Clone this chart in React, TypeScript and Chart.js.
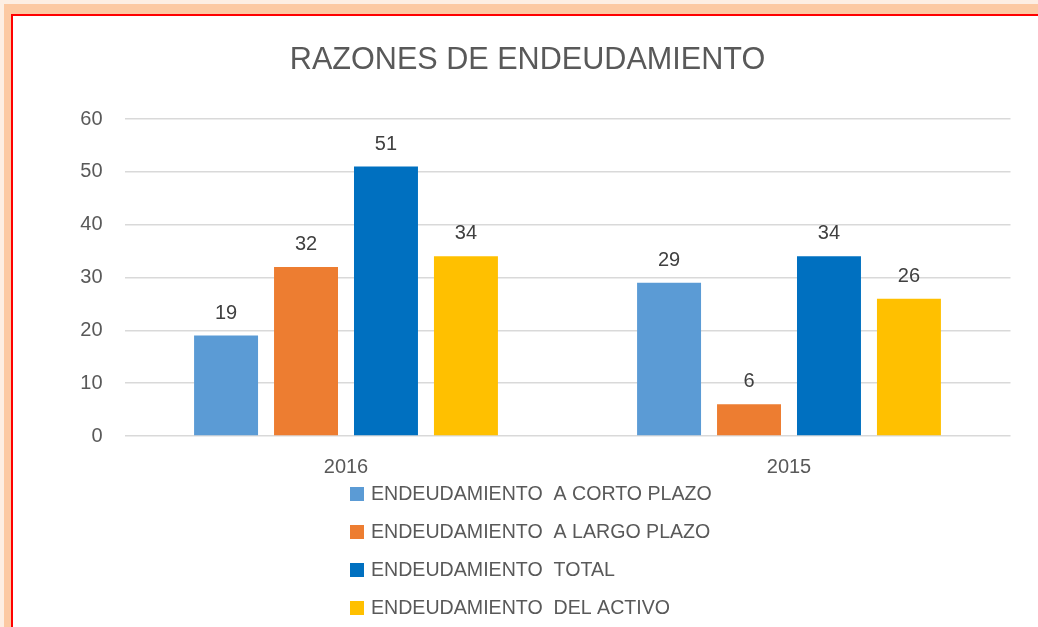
import React, { useEffect, useRef } from "react";
import { Chart, registerables } from "chart.js";

Chart.register(...registerables);

const titleText = "RAZONES DE ENDEUDAMIENTO";
const categories = ["2016", "2015"];
const seriesNames = [
  "ENDEUDAMIENTO  A CORTO PLAZO",
  "ENDEUDAMIENTO  A LARGO PLAZO",
  "ENDEUDAMIENTO  TOTAL",
  "ENDEUDAMIENTO  DEL ACTIVO",
];
const cortoPlazo = [19, 29];
const largoPlazo = [32, 6];
const total = [51, 34];
const delActivo = [34, 26];
const seriesColors = ["#5B9BD5", "#ED7D31", "#0070C0", "#FFC000"];
const yMin = 0;
const yMax = 60;
const yStep = 10;

const FONT = "'Liberation Sans', Arial, sans-serif";

const titlePlugin = {
  id: "customTitle",
  afterDraw(chart: any) {
    const ctx = chart.ctx;
    ctx.save();
    ctx.font = `30.6px ${FONT}`;
    ctx.fillStyle = "#595959";
    ctx.textAlign = "center";
    ctx.textBaseline = "middle";
    ctx.fillText(titleText, 527.5, 61);
    ctx.restore();
  },
};

const dataLabelPlugin = {
  id: "dataLabels",
  afterDatasetsDraw(chart: any) {
    const ctx = chart.ctx;
    ctx.save();
    ctx.font = `20px ${FONT}`;
    ctx.fillStyle = "#404040";
    ctx.textAlign = "center";
    ctx.textBaseline = "alphabetic";
    chart.data.datasets.forEach((ds: any, i: number) => {
      const meta = chart.getDatasetMeta(i);
      meta.data.forEach((el: any, j: number) => {
        ctx.fillText(String(ds.data[j]), el.x, el.y - 17);
      });
    });
    ctx.restore();
  },
};

const legendPlugin = {
  id: "vertLegend",
  afterDraw(chart: any) {
    const ctx = chart.ctx;
    ctx.save();
    ctx.font = `19.6px ${FONT}`;
    const firstY = 494;
    const step = 38;
    const left = 350;
    chart.data.datasets.forEach((ds: any, i: number) => {
      const cy = firstY + i * step;
      ctx.fillStyle = ds.backgroundColor;
      ctx.fillRect(left, cy - 7, 14, 14);
      ctx.fillStyle = "#595959";
      ctx.textAlign = "left";
      ctx.textBaseline = "middle";
      ctx.fillText(ds.label, left + 21, cy + 1);
    });
    ctx.restore();
  },
};

export default function App() {
  const canvasRef = useRef<HTMLCanvasElement | null>(null);

  useEffect(() => {
    if (!canvasRef.current) return;
    const seriesData = [cortoPlazo, largoPlazo, total, delActivo];
    const chart = new Chart(canvasRef.current, {
      type: "bar",
      data: {
        labels: categories,
        datasets: seriesNames.map((name, i) => ({
          label: name,
          data: seriesData[i],
          backgroundColor: seriesColors[i],
          borderWidth: 0,
          categoryPercentage: 0.722,
          barPercentage: 0.8,
        })),
      },
      options: {
        animation: false,
        responsive: true,
        maintainAspectRatio: false,
        layout: { padding: { left: 0, right: 27.5, top: 119, bottom: 151 } },
        plugins: {
          legend: { display: false },
          tooltip: { enabled: false },
          title: { display: false },
        },
        scales: {
          x: {
            grid: { display: false },
            border: { display: false },
            ticks: { color: "#595959", font: { family: FONT, size: 20 }, padding: 11 },
            afterFit: (s: any) => {
              s.height = 40;
            },
          },
          y: {
            min: yMin,
            max: yMax,
            grid: { color: "#d9d9d9", lineWidth: 1.5, drawTicks: false },
            border: { display: false },
            ticks: {
              stepSize: yStep,
              color: "#595959",
              font: { family: FONT, size: 20 },
              padding: 22,
            },
            afterFit: (s: any) => {
              s.width = 124.5;
            },
          },
        },
      },
      plugins: [titlePlugin, dataLabelPlugin, legendPlugin],
    });
    return () => chart.destroy();
  }, []);

  return (
    <div style={{ position: "fixed", left: 0, top: 0, width: 1038, height: 627, overflow: "hidden", background: "#ffffff" }}>
      <div style={{ position: "absolute", left: 0, top: 0, width: 1100, height: 700, background: "#fdeee3" }} />
      <div style={{ position: "absolute", left: 4, top: 4, width: 1100, height: 700, background: "#fcc9a3" }} />
      <div
        style={{
          position: "absolute",
          left: 11,
          top: 14,
          width: 1100,
          height: 700,
          background: "#ffffff",
          borderTop: "2px solid #ff0000",
          borderLeft: "2px solid #ff0000",
        }}
      />
      <div style={{ position: "absolute", left: 0, top: 0, width: 1038, height: 627 }}>
        <canvas ref={canvasRef} />
      </div>
    </div>
  );
}
